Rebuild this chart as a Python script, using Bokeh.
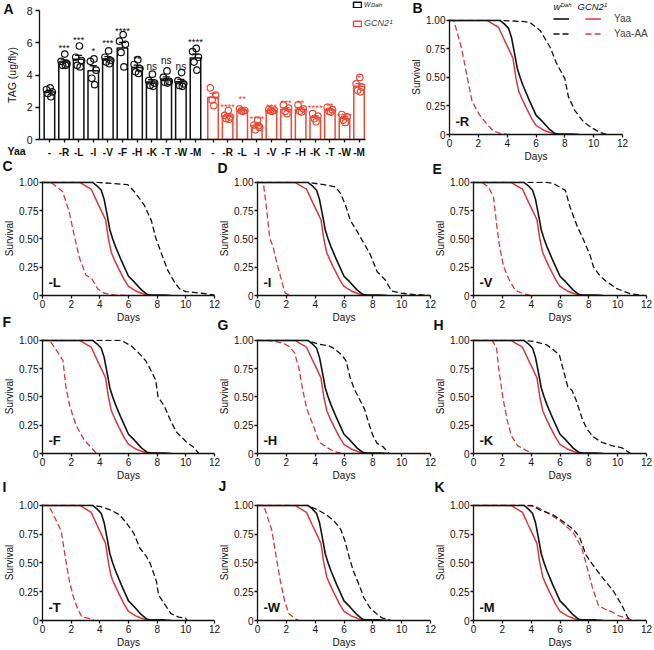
import numpy as np
from bokeh.plotting import figure
from bokeh.models import (Range1d, FixedTicker, Label, Legend, LegendItem,
                          ColumnDataSource, Whisker, TeeHead)
from bokeh.layouts import row, column
from bokeh.embed import file_html
from bokeh.resources import INLINE
from bokeh.core.properties import value

FONT = "Liberation Sans"
INK = "#111111"
RED_A = "#EC4A35"
RED = "#DC3838"

# ---------------- Panel A : TAG (ug/fly) ----------------
yaa_labels = ["-", "-R", "-L", "-I", "-V", "-F", "-H", "-K", "-T", "-W", "-M"]
wdah_tag = [
    [3.2, 3.1, 2.95, 2.85, 2.65],
    [5.3, 4.85, 4.7, 4.6, 4.6],
    [5.8, 5.1, 4.9, 4.6, 4.5],
    [5.0, 4.85, 4.3, 3.8, 3.4],
    [5.5, 5.1, 4.9, 4.8, 4.7],
    [6.5, 6.1, 5.9, 5.4, 4.5],
    [4.95, 4.65, 4.4, 4.2, 4.1],
    [4.05, 3.65, 3.5, 3.35, 3.3],
    [4.25, 3.85, 3.6, 3.55, 3.5],
    [4.15, 3.65, 3.45, 3.35, 3.3],
    [5.65, 5.45, 5.1, 4.8, 4.3],
]
gcn2_tag = [
    [3.2, 2.75, 2.45, 2.1],
    [1.8, 1.5, 1.4, 1.3, 1.25],
    [1.9, 1.8, 1.78, 1.75],
    [1.2, 0.9, 0.75, 0.6, 0.85],
    [1.85, 1.82, 1.78, 1.75],
    [2.15, 1.95, 1.75, 1.6],
    [2.15, 1.9, 1.75, 1.7],
    [1.6, 1.45, 1.3, 1.1],
    [2.0, 1.85, 1.75, 1.7],
    [1.55, 1.4, 1.2, 1.05],
    [3.85, 3.45, 3.25, 3.05, 2.95],
]
wdah_sig = ["", "***", "***", "*", "***", "****", "**", "ns", "ns", "ns", "****"]
wdah_sig_y = [0, 6.03, 6.5, 5.85, 6.34, 7.09, 5.33, 4.69, 5.06, 4.69, 6.4]
gcn2_sig = ["", "****", "**", "****", "***", "***", "**", "****", "**", "****", "*"]
gcn2_sig_y = [0, 2.33, 2.85, 1.6, 2.38, 2.58, 2.62, 2.31, 2.42, 1.82, 4.13]

# ---------------- Survival curves (days, survival) ----------------
wdah_yaa_days = [0, 3.5, 3.8, 4.1, 4.3, 4.5, 4.7, 4.9, 5.1, 5.5, 6.0, 6.4, 6.9, 7.3, 7.6, 8.5, 9.0]
wdah_yaa_surv = [1.0, 1.0, 0.97, 0.93, 0.85, 0.72, 0.58, 0.50, 0.43, 0.31, 0.17, 0.12, 0.05, 0.01, 0.005, 0.005, 0.0]
gcn2_yaa_days = [0, 2.6, 3.0, 3.4, 3.8, 4.1, 4.4, 4.6, 4.8, 5.0, 5.3, 5.7, 6.0, 6.5, 7.0, 7.4, 8.0]
gcn2_yaa_surv = [1.0, 1.0, 0.97, 0.94, 0.83, 0.75, 0.67, 0.50, 0.38, 0.32, 0.24, 0.14, 0.08, 0.04, 0.015, 0.0, 0.0]

R_wdah_days = [0, 3.5, 5.2, 5.6, 6.3, 7.0, 7.4, 8.0, 8.25, 8.7, 9.3, 9.86, 10.4, 10.9]
R_wdah_surv = [1, 1, 0.99, 0.98, 0.91, 0.76, 0.63, 0.49, 0.33, 0.21, 0.11, 0.06, 0.02, 0]
R_gcn2_days = [0, 0.3, 0.85, 1.2, 1.55, 1.9, 2.1, 2.6, 3.05, 3.5, 4.0]
R_gcn2_surv = [1, 1, 0.75, 0.52, 0.30, 0.21, 0.17, 0.09, 0.03, 0.01, 0]

L_wdah_days = [0, 3.85, 5.95, 6.4, 7.1, 7.6, 7.9, 8.3, 8.75, 9.2, 9.55, 10.0, 11.1, 12.0]
L_wdah_surv = [1, 1, 0.98, 0.92, 0.80, 0.66, 0.51, 0.37, 0.22, 0.12, 0.06, 0.035, 0.02, 0.005]
L_gcn2_days = [0, 0.6, 1.4, 1.86, 2.2, 2.56, 3.03, 3.43, 3.85, 4.3, 5.0, 5.95]
L_gcn2_surv = [1, 1, 0.92, 0.74, 0.54, 0.34, 0.18, 0.15, 0.06, 0.02, 0.005, 0]

I_wdah_days = [0, 3.5, 4.6, 5.4, 5.77, 6.1, 6.45, 6.9, 7.25, 7.8, 8.05, 8.3, 8.85, 9.3, 10.0, 10.8, 11.95]
I_wdah_surv = [1, 1, 0.98, 0.96, 0.90, 0.80, 0.66, 0.57, 0.49, 0.37, 0.29, 0.21, 0.14, 0.04, 0.02, 0.01, 0]
I_gcn2_days = [0, 0.4, 0.6, 0.85, 1.08, 1.3, 1.53, 1.76, 1.92, 2.33]
I_gcn2_surv = [1, 1, 0.8, 0.51, 0.43, 0.31, 0.20, 0.09, 0.02, 0]

V_wdah_days = [0, 5.1, 5.55, 6.37, 6.7, 7.2, 7.64, 8.1, 8.33, 8.8, 9.26, 9.95, 10.9, 11.8]
V_wdah_surv = [1, 1, 0.99, 0.93, 0.78, 0.61, 0.49, 0.35, 0.25, 0.17, 0.12, 0.06, 0.015, 0]
V_gcn2_days = [0, 0.58, 1.04, 1.39, 1.62, 1.8, 2.08, 2.43, 2.9, 3.47, 3.94]
V_gcn2_surv = [1, 1, 0.96, 0.87, 0.61, 0.44, 0.26, 0.15, 0.045, 0.015, 0]

F_wdah_days = [0, 5.5, 6.2, 6.63, 7.2, 7.5, 7.9, 8.06, 8.5, 8.9, 9.34, 10.06, 10.6, 10.9]
F_wdah_surv = [1, 1, 0.95, 0.90, 0.82, 0.75, 0.65, 0.50, 0.42, 0.30, 0.19, 0.10, 0.05, 0]
F_gcn2_days = [0, 0.5, 1.2, 1.43, 1.63, 1.9, 2.34, 2.9, 3.34, 3.77]
F_gcn2_surv = [1, 1, 0.87, 0.82, 0.59, 0.42, 0.25, 0.12, 0.06, 0]

H_wdah_days = [0, 3.43, 4.14, 5.0, 5.29, 5.86, 6.14, 6.43, 6.71, 7.0, 7.43, 7.71, 8.0, 8.3, 8.7, 9.14]
H_wdah_surv = [1, 1, 0.97, 0.95, 0.93, 0.87, 0.82, 0.67, 0.57, 0.50, 0.39, 0.27, 0.16, 0.09, 0.06, 0]
H_gcn2_days = [0, 0.7, 1.29, 1.86, 2.14, 2.57, 2.86, 3.14, 3.43, 3.86, 4.29, 4.86, 5.29, 5.86]
H_gcn2_surv = [1, 1, 0.99, 0.97, 0.95, 0.89, 0.76, 0.56, 0.39, 0.25, 0.10, 0.05, 0.02, 0]

K_wdah_days = [0, 3.49, 4.2, 4.5, 5.09, 5.52, 5.96, 6.25, 6.54, 6.83, 7.12, 7.56, 7.85, 8.28, 8.87, 9.6, 10.3, 10.9]
K_wdah_surv = [1, 1, 0.99, 0.98, 0.96, 0.92, 0.87, 0.73, 0.59, 0.56, 0.47, 0.30, 0.22, 0.15, 0.10, 0.07, 0.05, 0]
K_gcn2_days = [0, 1.3, 1.6, 1.74, 2.03, 2.33, 2.62, 3.05, 3.63, 4.07]
K_gcn2_surv = [1, 1, 0.93, 0.76, 0.50, 0.30, 0.16, 0.07, 0.03, 0]

T_wdah_days = [0, 3.47, 4.05, 4.77, 5.35, 5.78, 6.36, 6.79, 7.23, 7.5, 7.95, 8.1, 8.53, 8.96, 9.5, 9.97, 10.1]
T_wdah_surv = [1, 1, 0.99, 0.96, 0.92, 0.86, 0.76, 0.63, 0.56, 0.50, 0.34, 0.22, 0.14, 0.06, 0.03, 0.02, 0]
T_gcn2_days = [0, 0.43, 0.87, 1.3, 1.59, 1.88, 2.17, 2.46, 2.75, 3.18, 3.61]
T_gcn2_surv = [1, 1, 0.89, 0.78, 0.55, 0.34, 0.20, 0.10, 0.03, 0.02, 0]

W_wdah_days = [0, 3.47, 4.19, 4.77, 5.35, 5.78, 6.07, 6.36, 6.65, 7.08, 7.37, 7.8, 8.24, 8.67, 8.96, 9.25]
W_wdah_surv = [1, 1, 0.96, 0.92, 0.86, 0.79, 0.69, 0.55, 0.43, 0.30, 0.20, 0.11, 0.06, 0.02, 0.015, 0]
W_gcn2_days = [0, 0.43, 0.72, 1.0, 1.3, 1.59, 1.88, 2.17, 2.6, 2.9]
W_gcn2_surv = [1, 1, 0.89, 0.78, 0.55, 0.34, 0.17, 0.06, 0.015, 0]

M_wdah_days = [0, 3.47, 4.05, 4.62, 5.49, 6.21, 6.94, 7.37, 7.8, 8.24, 8.96, 9.68, 10.26, 10.69, 10.84]
M_wdah_surv = [1, 1, 1.0, 0.96, 0.92, 0.86, 0.79, 0.72, 0.57, 0.49, 0.37, 0.26, 0.14, 0.03, 0]
M_gcn2_days = [0, 3.47, 4.34, 5.2, 6.07, 6.94, 7.51, 7.95, 8.24, 8.67, 9.1, 9.68, 10.1, 10.69, 11.27, 12.0]
M_gcn2_surv = [1, 1, 0.99, 0.93, 0.86, 0.76, 0.63, 0.43, 0.29, 0.13, 0.10, 0.07, 0.04, 0.015, 0, 0]

day_ticks = [0, 2, 4, 6, 8, 10, 12]
surv_ticks = [0, 0.25, 0.5, 0.75, 1.0]
surv_tick_labels = ["0", "0.25", "0.50", "0.75", "1.00"]
tag_ticks = [0, 2, 4, 6, 8]

JITTER = {5: [0.05, -0.2, 0.2, -0.1, 0.1], 4: [-0.18, 0.18, -0.06, 0.06]}

PAGE_W, PAGE_H = 654, 650


def hide_title(p):
    if p.title is not None:
        p.title.visible = False


def style_axes(p, tick_size="10px", label_size="10px"):
    for ax in (p.xaxis[0], p.yaxis[0]):
        ax.axis_line_width = 1.3
        ax.axis_line_color = INK
        ax.major_tick_line_width = 1.3
        ax.major_tick_line_color = INK
        ax.major_tick_out = 3
        ax.major_tick_in = 0
        ax.minor_tick_out = 0
        ax.minor_tick_in = 0
        ax.major_label_text_font = FONT
        ax.major_label_text_font_size = tick_size
        ax.major_label_text_color = INK
        ax.axis_label_text_font = FONT
        ax.axis_label_text_font_size = label_size
        ax.axis_label_text_font_style = "normal"
        ax.axis_label_text_color = INK
    p.xgrid.visible = False
    p.ygrid.visible = False


def add_text(p, x, y, text, size, style="normal", align="left", baseline="middle", color=INK):
    p.add_layout(Label(x=x, y=y, x_units="screen", y_units="screen", text=text,
                       text_font=FONT, text_font_size=size, text_font_style=style,
                       text_align=align, text_baseline=baseline, text_color=color))


def tag_group(points, start):
    xs, mean, lo, hi, px, py = [], [], [], [], [], []
    for i, pts in enumerate(points):
        a = np.asarray(pts, dtype=float)
        m = a.mean()
        se = a.std(ddof=1) / np.sqrt(a.size)
        x = start + i
        xs.append(x); mean.append(m); lo.append(m - se); hi.append(m + se)
        for off, v in zip(JITTER[a.size], pts):
            px.append(x + off); py.append(v)
    return xs, mean, lo, hi, px, py


# ---------------- Figure A ----------------
pA = figure(frame_width=326, frame_height=129, x_range=Range1d(-0.68, 21.64), y_range=Range1d(0, 8),
            output_backend="svg", toolbar_location=None,
            min_border_left=39, min_border_right=39, min_border_top=8, min_border_bottom=29,
            border_fill_color=None, outline_line_color=None, background_fill_color=None)
hide_title(pA)
pA.margin = (-9, 0, 0, 0)
style_axes(pA, tick_size="10.5px", label_size="10.5px")

group_means = []
all_ticks, all_labels = [], []
for points, sig, sig_y, start, color in ((wdah_tag, wdah_sig, wdah_sig_y, 0.0, INK),
                                          (gcn2_tag, gcn2_sig, gcn2_sig_y, 11.2, RED_A)):
    xs, mean, lo, hi, px, py = tag_group(points, start)
    group_means.append((xs, mean))
    src = ColumnDataSource(dict(x=xs, top=mean, lo=lo, hi=hi))
    pA.vbar(x="x", top="top", width=0.72, source=src, fill_color="white",
            line_color=color, line_width=1.5)
    pA.add_layout(Whisker(source=src, base="x", upper="hi", lower="lo", line_color=color,
                          line_width=1.3,
                          upper_head=TeeHead(size=7, line_color=color, line_width=1.3),
                          lower_head=TeeHead(size=7, line_color=color, line_width=1.3)))
    pA.scatter(px, py, marker="circle", size=6.5, fill_alpha=0, line_color=color, line_width=1.2)
    stars = [(x, y, s) for x, y, s in zip(xs, sig_y, sig) if s and s != "ns"]
    nss = [(x, y, s) for x, y, s in zip(xs, sig_y, sig) if s == "ns"]
    if stars:
        pA.text(x=[t[0] for t in stars], y=[t[1] for t in stars], text=[t[2] for t in stars],
                text_font=value(FONT), text_font_size="9.5px", text_align="center",
                text_baseline="alphabetic", y_offset=5, text_color=color)
    if nss:
        pA.text(x=[t[0] for t in nss], y=[t[1] for t in nss], text=[t[2] for t in nss],
                text_font=value(FONT), text_font_size="10px", text_align="center",
                text_baseline="alphabetic", y_offset=3, text_color=color)
    all_ticks += xs
    all_labels += yaa_labels

pA.xaxis.ticker = FixedTicker(ticks=all_ticks)
pA.xaxis.major_label_overrides = {float(t): l for t, l in zip(all_ticks, all_labels)}
pA.xaxis.major_label_text_font_style = "bold"
pA.xaxis.major_label_text_font_size = "10px"
pA.xaxis.major_label_standoff = 4
pA.yaxis.ticker = FixedTicker(ticks=tag_ticks)
pA.yaxis.major_tick_out = 4
pA.yaxis.major_label_standoff = 3
pA.yaxis.axis_label = "TAG (ug/fly)"
pA.yaxis.axis_label_standoff = 6


# ---------------- Survival panels ----------------
def survival_panel(tag, wd, ws, gd, gs, width, height, left, right, top, bottom):
    p = figure(width=width, height=height, x_range=Range1d(0, 12), y_range=Range1d(0, 1.008),
               output_backend="svg", toolbar_location=None,
               min_border_left=left, min_border_right=right, min_border_top=top,
               min_border_bottom=bottom, border_fill_color=None, outline_line_color=None,
               background_fill_color=None)
    hide_title(p)
    style_axes(p)
    p.line(gd, gs, line_color=RED, line_width=1.3, line_dash="6 3")
    p.line(wd, ws, line_color=INK, line_width=1.3, line_dash="6 3")
    p.line(gcn2_yaa_days, gcn2_yaa_surv, line_color=RED, line_width=1.5)
    p.line(wdah_yaa_days, wdah_yaa_surv, line_color=INK, line_width=1.6)
    p.xaxis.ticker = FixedTicker(ticks=day_ticks)
    p.yaxis.ticker = FixedTicker(ticks=surv_ticks)
    p.yaxis.major_label_overrides = {float(t): l for t, l in zip(surv_ticks, surv_tick_labels)}
    p.xaxis.major_label_standoff = 1
    p.yaxis.major_label_standoff = 1
    p.xaxis.axis_label = "Days"
    p.yaxis.axis_label = "Survival"
    p.xaxis.axis_label_standoff = 1
    p.yaxis.axis_label_standoff = 1
    add_text(p, 6, 13, tag, "13px", style="bold")
    return p


pB = survival_panel("-R", R_wdah_days, R_wdah_surv, R_gcn2_days, R_gcn2_surv, 250, 164, 45, 32, 19, 29)

pC = survival_panel("-L", L_wdah_days, L_wdah_surv, L_gcn2_days, L_gcn2_surv, 221, 161, 42, 7, 17, 28)
pD = survival_panel("-I", I_wdah_days, I_wdah_surv, I_gcn2_days, I_gcn2_surv, 222, 161, 42, 7, 17, 28)
pE = survival_panel("-V", V_wdah_days, V_wdah_surv, V_gcn2_days, V_gcn2_surv, 223, 161, 42, 8, 17, 28)
pF = survival_panel("-F", F_wdah_days, F_wdah_surv, F_gcn2_days, F_gcn2_surv, 221, 158, 42, 7, 14, 28)
pG = survival_panel("-H", H_wdah_days, H_wdah_surv, H_gcn2_days, H_gcn2_surv, 222, 158, 42, 7, 14, 28)
pH = survival_panel("-K", K_wdah_days, K_wdah_surv, K_gcn2_days, K_gcn2_surv, 223, 158, 42, 8, 14, 28)
pI = survival_panel("-T", T_wdah_days, T_wdah_surv, T_gcn2_days, T_gcn2_surv, 221, 167, 42, 7, 21, 30)
pJ = survival_panel("-W", W_wdah_days, W_wdah_surv, W_gcn2_days, W_gcn2_surv, 222, 167, 42, 7, 21, 30)
pK = survival_panel("-M", M_wdah_days, M_wdah_surv, M_gcn2_days, M_gcn2_surv, 223, 167, 42, 8, 21, 30)

for p in (pD, pE, pG, pH, pJ, pK):
    p.margin = (0, 0, 0, -6)

# ---------------- Overlay: panel letters, legends, free texts ----------------
ov = figure(width=PAGE_W, height=PAGE_H, x_range=Range1d(0, 1), y_range=Range1d(0, 1),
            x_axis_type=None, y_axis_type=None, output_backend="svg", toolbar_location=None,
            min_border=0, min_border_left=0, min_border_right=0, min_border_top=0,
            min_border_bottom=0, border_fill_color=None, outline_line_color=None,
            background_fill_color=None)
hide_title(ov)
ov.xgrid.visible = False
ov.ygrid.visible = False
ov.margin = (-PAGE_H, 0, 0, 0)


def ov_text(x, y, text, size, style="normal", align="left"):
    # x, y measured from the page's top-left corner
    add_text(ov, x, PAGE_H - y, text, size, style=style, align=align)


panel_letters = [("A", 3, 8), ("B", 412, 7), ("C", 2, 165), ("D", 217, 167), ("E", 432, 168),
                 ("F", 2, 321), ("G", 217, 324), ("H", 433, 324),
                 ("I", 2, 486), ("J", 218, 485), ("K", 434, 486)]
for letter, lx, ly in panel_letters:
    ov_text(lx, ly, letter, "14px", style="bold")
ov_text(7, 150, "Yaa", "10.5px", style="bold")

# legend tuple location = (left, bottom) measured from the bottom-left corner

# legend of panel A (open bars); proxies hold the bar data but are not drawn
kw_w = ov.vbar(x=group_means[0][0], top=group_means[0][1], width=1, fill_color="white",
               line_color=INK, line_width=1.5, visible=False)
kw_g = ov.vbar(x=group_means[1][0], top=group_means[1][1], width=1, fill_color="white",
               line_color=RED_A, line_width=1.5, visible=False)
legA = Legend(items=[LegendItem(label="w", renderers=[kw_w]),
                     LegendItem(label="GCN2", renderers=[kw_g])],
              location=(352, PAGE_H - 28), glyph_width=10, glyph_height=7, label_height=7,
              spacing=9, padding=0, margin=0, label_standoff=2,
              label_text_font=FONT, label_text_font_size="9px", label_text_font_style="italic",
              border_line_color=None, background_fill_alpha=0)
ov.add_layout(legA, "center")
ov_text(370.5, 4.8, "Dah", "6px", style="italic")
ov_text(389, 21.5, "1", "6px", style="italic")

# legend of the survival panels (proxies hold the Yaa curves but are not drawn)
kl_ws = ov.line(wdah_yaa_days, wdah_yaa_surv, line_color=INK, line_width=1.6, visible=False)
kl_wd = ov.line(R_wdah_days, R_wdah_surv, line_color=INK, line_width=1.3, line_dash="6 3", visible=False)
kl_gs = ov.line(gcn2_yaa_days, gcn2_yaa_surv, line_color=RED, line_width=1.5, visible=False)
kl_gd = ov.line(R_gcn2_days, R_gcn2_surv, line_color=RED, line_width=1.3, line_dash="6 3", visible=False)
leg_common = dict(glyph_width=16, glyph_height=15, label_height=15, spacing=0, padding=0,
                  margin=0, label_text_font=FONT, label_text_font_size="10px",
                  border_line_color=None, background_fill_alpha=0)
legB1 = Legend(items=[LegendItem(label=" ", renderers=[kl_ws]), LegendItem(label=" ", renderers=[kl_wd])],
               location=(553, PAGE_H - 40.5), label_standoff=2, label_width=2, **leg_common)
legB2 = Legend(items=[LegendItem(label="Yaa", renderers=[kl_gs]), LegendItem(label="Yaa-AA", renderers=[kl_gd])],
               location=(585, PAGE_H - 40.5), label_standoff=13, **leg_common)
ov.add_layout(legB1, "center")
ov.add_layout(legB2, "center")
ov_text(553, 6, "w", "9.5px", style="italic")
ov_text(560, 4.5, "Dah", "6px", style="italic")
ov_text(577, 6, "GCN2", "9.5px", style="italic")
ov_text(603.5, 4.5, "1", "6px", style="italic")

r1 = row(pA, pB)
r2 = row(pC, pD, pE)
r3 = row(pF, pG, pH)
r4 = row(pI, pJ, pK)
layout = column(r1, r2, r3, r4, ov)

open("out.html", "w").write(file_html(layout, INLINE))
